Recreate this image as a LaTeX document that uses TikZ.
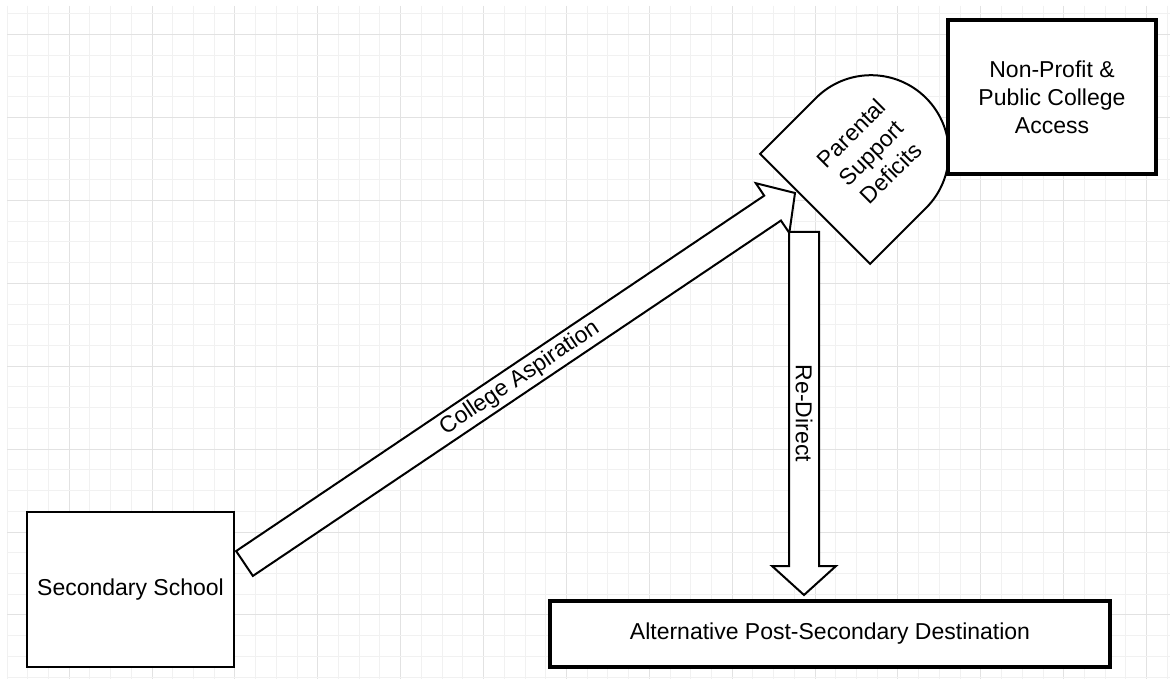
\documentclass[tikz,border=0pt]{standalone}
\usepackage{fontspec}
\setmainfont{Liberation Sans}
\usetikzlibrary{calc}
\definecolor{gridminor}{RGB}{241,241,241}
\definecolor{gridmajor}{RGB}{226,226,226}

% Block arrow from #1 to #2: shaft half width #3, head length #4, head half width #5 (pt)
\newcommand\blockarrowpath[5]{%
  \draw[blockarrow] let \p1=(#1), \p2=(#2),
      \n1={atan2(\y2-\y1,\x2-\x1)},
      \n2={veclen(\x2-\x1,\y2-\y1)-#4} in
    ($(\p1)+(\n1-90:#3pt)$)
    -- ($(\p1)+(\n1-90:#3pt)+(\n1:\n2)$)
    -- ($(\p1)+(\n1-90:#5pt)+(\n1:\n2)$)
    -- (\p2)
    -- ($(\p1)+(\n1+90:#5pt)+(\n1:\n2)$)
    -- ($(\p1)+(\n1+90:#3pt)+(\n1:\n2)$)
    -- ($(\p1)+(\n1+90:#3pt)$)
    -- cycle;
}

\begin{document}
\begin{tikzpicture}[x=1pt, y=-1pt,
  font=\fontsize{23}{28}\selectfont,
  box/.style={draw=black, fill=white, line width=#1, inner sep=0pt, align=center},
  blockarrow/.style={draw=black, fill=white, line width=2pt, line join=miter},
  shapeline/.style={draw=black, fill=white, line width=2pt, line join=miter},
  label/.style={inner sep=0pt, align=center}]

\useasboundingbox (0,0) rectangle (1170,679);
\fill[white] (0,0) rectangle (1170,679);

% background grid
\begin{scope}
  \clip (7,6) rectangle (1170,679);
  \foreach \k in {0,...,56} {
    \pgfmathsetmacro\gx{7+20.72*\k}
    \pgfmathtruncatemacro\km{mod(\k,4)}
    \ifnum\km=3
      \draw[gridmajor, line width=1pt] (\gx,6) -- (\gx,679);
    \else
      \draw[gridminor, line width=1pt] (\gx,6) -- (\gx,679);
    \fi
  }
  \foreach \j in {0,...,32} {
    \pgfmathsetmacro\gy{14+20.72*\j}
    \pgfmathtruncatemacro\jm{mod(\j,4)}
    \ifnum\jm=1
      \draw[gridmajor, line width=1pt] (7,\gy) -- (1170,\gy);
    \else
      \draw[gridminor, line width=1pt] (7,\gy) -- (1170,\gy);
    \fi
  }
\end{scope}

% boxes
\node[box=2.3pt, minimum width=207pt, minimum height=155pt] (sec) at (130.5,589.5) {Secondary School};
\node[box=3.2pt, minimum width=560pt, minimum height=66pt] (alt) at (830,634) {Alternative Post-Secondary Destination};

% delay shape
\coordinate (psdc) at (871,153);
\begin{scope}[shift={(psdc)}, rotate=45]
  \draw[shapeline] (-79pt,-77.8pt) -- (0pt,-77.8pt)
    arc[start angle=-90, end angle=90, radius=77.8pt]
    -- (-79pt,77.8pt) -- cycle;
\end{scope}
\node[label, rotate=45] (psd) at (psdc) {Parental\\Support\\Deficits};

\node[box=3.2pt, minimum width=208pt, minimum height=154pt] (npc) at (1052,97) {Non-Profit \&\\Public College\\Access};

% block arrows
\coordinate (ca-tail) at (244.5,563.5);
\coordinate (ca-tip) at (795,193);
\blockarrowpath{ca-tail}{ca-tip}{15}{27}{30}
\node[label, rotate=33.9] (ca-label) at ($(ca-tail)!0.5!(ca-tip)$) {College Aspiration};

\coordinate (rd-tail) at (804,232);
\coordinate (rd-tip) at (804,595);
\blockarrowpath{rd-tail}{rd-tip}{15}{29}{32}
\node[label, rotate=-90] (rd-label) at ($(rd-tail)!0.5!(rd-tip)$) {Re-Direct};

\end{tikzpicture}
\end{document}
